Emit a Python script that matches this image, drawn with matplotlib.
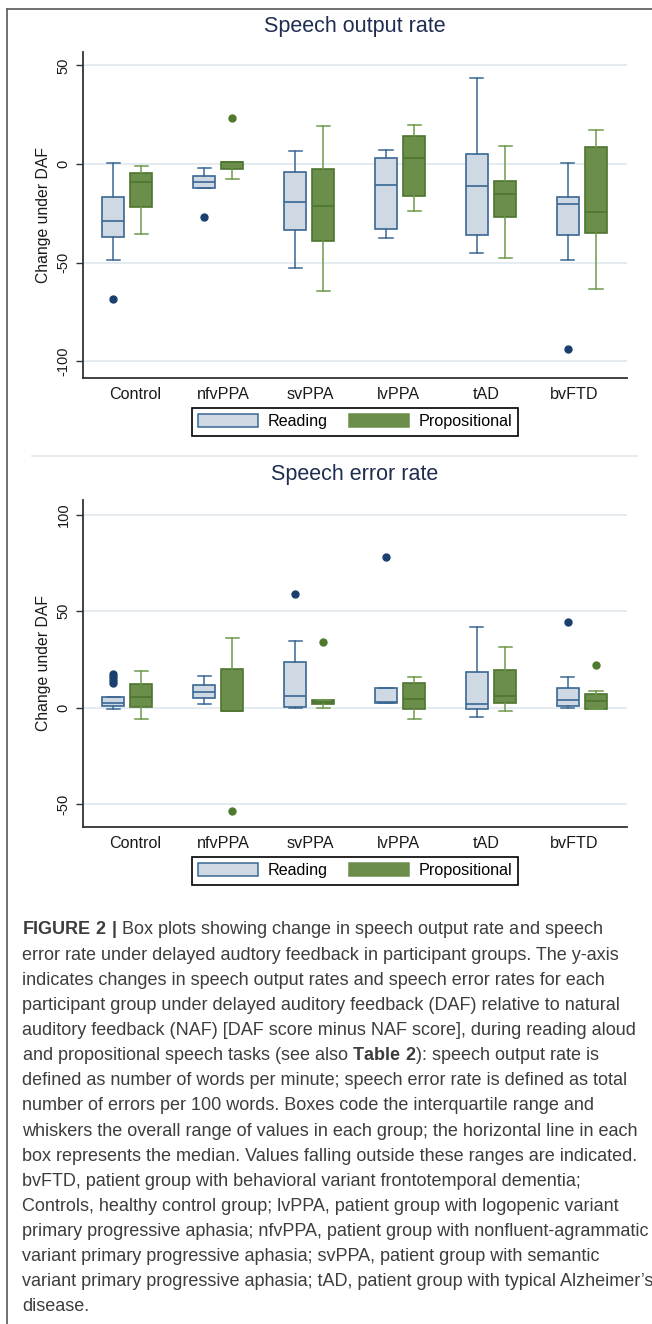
import numpy as np
import matplotlib.pyplot as plt
from matplotlib.patches import Patch
from matplotlib.lines import Line2D

plt.rcParams['font.family'] = ['Liberation Sans', 'DejaVu Sans']
plt.rcParams['mathtext.fontset'] = 'custom'
plt.rcParams['mathtext.rm'] = 'Liberation Sans'
plt.rcParams['mathtext.bf'] = 'Liberation Sans:bold'
plt.rcParams['axes.unicode_minus'] = False

groups = ["Control", "nfvPPA", "svPPA", "lvPPA", "tAD", "bvFTD"]
series = ["Reading", "Propositional"]

# speech output rate (whisker low, q1, median, q3, whisker high, outliers)
rate_read_lo = [-48.5, -12.0, -52.7, -37.7, -45.3, -48.5]
rate_read_q1 = [-37.2, -12.0, -33.6, -32.8, -35.8, -35.8]
rate_read_med = [-28.7, -9.1, -19.1, -10.8, -11.3, -20.4]
rate_read_q3 = [-16.7, -6.1, -4.2, 2.9, 5.2, -16.7]
rate_read_hi = [0.5, -1.9, 6.6, 7.1, 43.4, 0.3]
rate_read_out = [[-68.4], [-26.9], [], [], [], [-93.8]]

rate_prop_lo = [-35.3, -7.8, -64.4, -24.0, -47.8, -63.3]
rate_prop_q1 = [-21.5, -2.5, -39.0, -16.2, -26.9, -34.8]
rate_prop_med = [-9.0, 0.9, -21.3, 3.0, -15.0, -24.5]
rate_prop_q3 = [-4.4, 1.2, -2.4, 14.0, -8.6, 8.8]
rate_prop_hi = [-0.8, 1.2, 19.1, 19.6, 9.0, 17.2]
rate_prop_out = [[], [23.5], [], [], [], []]

# speech error rate
err_read_lo = [-0.7, 1.7, 0.0, 2.4, -5.0, 0.0]
err_read_q1 = [1.0, 4.8, 0.4, 2.4, -0.7, 0.6]
err_read_med = [2.6, 8.3, 6.1, 3.0, 1.9, 3.8]
err_read_q3 = [5.5, 11.6, 23.9, 10.4, 18.3, 10.4]
err_read_hi = [5.5, 16.4, 34.8, 10.4, 41.7, 15.9]
err_read_out = [[12.6, 14.2, 15.9, 17.5], [], [59.2], [78.0], [], [44.6]]

err_prop_lo = [-6.1, -1.9, 0.0, -6.1, -1.9, -0.9]
err_prop_q1 = [0.3, -1.9, 1.7, -0.9, 2.4, -0.6]
err_prop_med = [5.5, -1.9, 3.0, 4.3, 6.1, 3.5]
err_prop_q3 = [12.3, 20.1, 4.2, 12.8, 19.6, 7.3]
err_prop_hi = [18.9, 36.2, 4.2, 15.9, 31.3, 8.5]
err_prop_out = [[], [-53.5], [34.1], [], [], [22.3]]

caption_lines = [
    r"$\mathbf{FIGURE\ 2\ |}$ Box plots showing change in speech output rate and speech",
    "error rate under delayed audtory feedback in participant groups. The y-axis",
    "indicates changes in speech output rates and speech error rates for each",
    "participant group under delayed auditory feedback (DAF) relative to natural",
    "auditory feedback (NAF) [DAF score minus NAF score], during reading aloud",
    r"and propositional speech tasks (see also $\mathbf{Table\ 2}$): speech output rate is",
    "defined as number of words per minute; speech error rate is defined as total",
    "number of errors per 100 words. Boxes code the interquartile range and",
    "whiskers the overall range of values in each group; the horizontal line in each",
    "box represents the median. Values falling outside these ranges are indicated.",
    "bvFTD, patient group with behavioral variant frontotemporal dementia;",
    "Controls, healthy control group; lvPPA, patient group with logopenic variant",
    "primary progressive aphasia; nfvPPA, patient group with nonfluent-agrammatic",
    "variant primary progressive aphasia; svPPA, patient group with semantic",
    "variant primary progressive aphasia; tAD, patient group with typical Alzheimer\u2019s",
    "disease.",
]

READ_FACE = '#cfd9e3'
READ_EDGE = '#3a6793'
READ_DOT = '#1b3f6e'
PROP_FACE = '#6b8e4a'
PROP_EDGE = '#4d7530'
PROP_WHISK = '#6f9a4c'
PROP_DOT = '#4f7a2c'


def make_stats(lo, q1, med, q3, hi, out):
    return [dict(whislo=a, q1=b, med=c, q3=d, whishi=e, fliers=f)
            for a, b, c, d, e, f in zip(lo, q1, med, q3, hi, out)]


def draw_panel(ax, title, st_read, st_prop, yticks, ylim):
    x = np.arange(len(groups))
    for st, pos, face, edge, whisk, dot in [
            (st_read, x - 0.154, READ_FACE, READ_EDGE, READ_EDGE, READ_DOT),
            (st_prop, x + 0.154, PROP_FACE, PROP_EDGE, PROP_WHISK, PROP_DOT)]:
        ax.bxp(st, positions=pos, widths=0.236, capwidths=0.143,
               patch_artist=True, manage_ticks=False,
               boxprops=dict(facecolor=face, edgecolor=edge, linewidth=1.2),
               medianprops=dict(color=edge, linewidth=1.2),
               whiskerprops=dict(color=whisk, linewidth=1.1),
               capprops=dict(color=whisk, linewidth=1.1),
               flierprops=dict(marker='o', markerfacecolor=dot,
                               markeredgecolor=dot, markersize=5))
    ax.set_xlim(-0.484, 5.495)
    ax.set_ylim(*ylim)
    ax.set_yticks(yticks)
    ax.grid(axis='y', color='#e5ecf1', linewidth=1.4)
    ax.set_axisbelow(True)
    for s in ['top', 'right']:
        ax.spines[s].set_visible(False)
    for s in ['left', 'bottom']:
        ax.spines[s].set_color('#333333')
        ax.spines[s].set_linewidth(1.3)
    ax.set_xticks(np.linspace(0.088, 4.918, len(groups)))
    ax.set_xticklabels(groups)
    ax.tick_params(axis='x', length=0, pad=7, labelsize=11.6, labelcolor='#1a1a1a')
    ax.tick_params(axis='y', length=5, width=1, color='#333333', pad=4,
                   labelsize=10.5, labelrotation=90, labelcolor='#1a1a1a')
    for lab in ax.get_yticklabels():
        lab.set_va('center')
    ax.set_ylabel("Change under DAF", fontsize=11.3, color='#1a1a1a')
    ax.yaxis.set_label_coords(-0.0735, 0.5)
    ax.yaxis.label.set_va('center')
    ax.set_title(title, fontsize=15.5, color='#1f2d50', y=1.052, va='center')


fig = plt.figure(figsize=(6.52, 13.24), dpi=100)
ax1 = fig.add_axes([0.1273, 0.7147, 0.8344, 0.2460])
ax2 = fig.add_axes([0.1273, 0.3756, 0.8344, 0.2468])

draw_panel(ax1, "Speech output rate",
           make_stats(rate_read_lo, rate_read_q1, rate_read_med, rate_read_q3, rate_read_hi, rate_read_out),
           make_stats(rate_prop_lo, rate_prop_q1, rate_prop_med, rate_prop_q3, rate_prop_hi, rate_prop_out),
           [-100, -50, 0, 50], (-108.3, 56.8))
draw_panel(ax2, "Speech error rate",
           make_stats(err_read_lo, err_read_q1, err_read_med, err_read_q3, err_read_hi, err_read_out),
           make_stats(err_prop_lo, err_prop_q1, err_prop_med, err_prop_q3, err_prop_hi, err_prop_out),
           [-50, 0, 50, 100], (-61.8, 107.8))

handles = [Patch(facecolor=READ_FACE, edgecolor=READ_EDGE, linewidth=1.1),
           Patch(facecolor=PROP_FACE, edgecolor=PROP_FACE, linewidth=1.1)]
for yc in [0.6813, 0.3422]:
    leg = fig.legend(handles, series, loc='center', bbox_to_anchor=(0.5445, yc),
                     ncol=2, fontsize=11.6, handlelength=3.7, handleheight=0.85,
                     handletextpad=0.6, columnspacing=1.35, borderpad=0.4,
                     fancybox=False, framealpha=1, edgecolor='black')
    leg.get_frame().set_linewidth(1.2)

# frame and separator
fig.add_artist(Line2D([7 / 652, 7 / 652], [0, 1 - 9 / 1324], color='#666666', linewidth=1.3))
fig.add_artist(Line2D([7 / 652, 1], [1 - 9 / 1324, 1 - 9 / 1324], color='#666666', linewidth=1.3))
fig.add_artist(Line2D([32 / 652, 637 / 652], [1 - 456 / 1324, 1 - 456 / 1324], color='#e3e9ee', linewidth=1.3))

# caption
for i, line in enumerate(caption_lines):
    fig.text(22 / 652, 1 - (930 + i * 25.13) / 1324, line, fontsize=13,
             color='#3d3d3d', va='center', ha='left')

fig.savefig("out.png", dpi=100)
